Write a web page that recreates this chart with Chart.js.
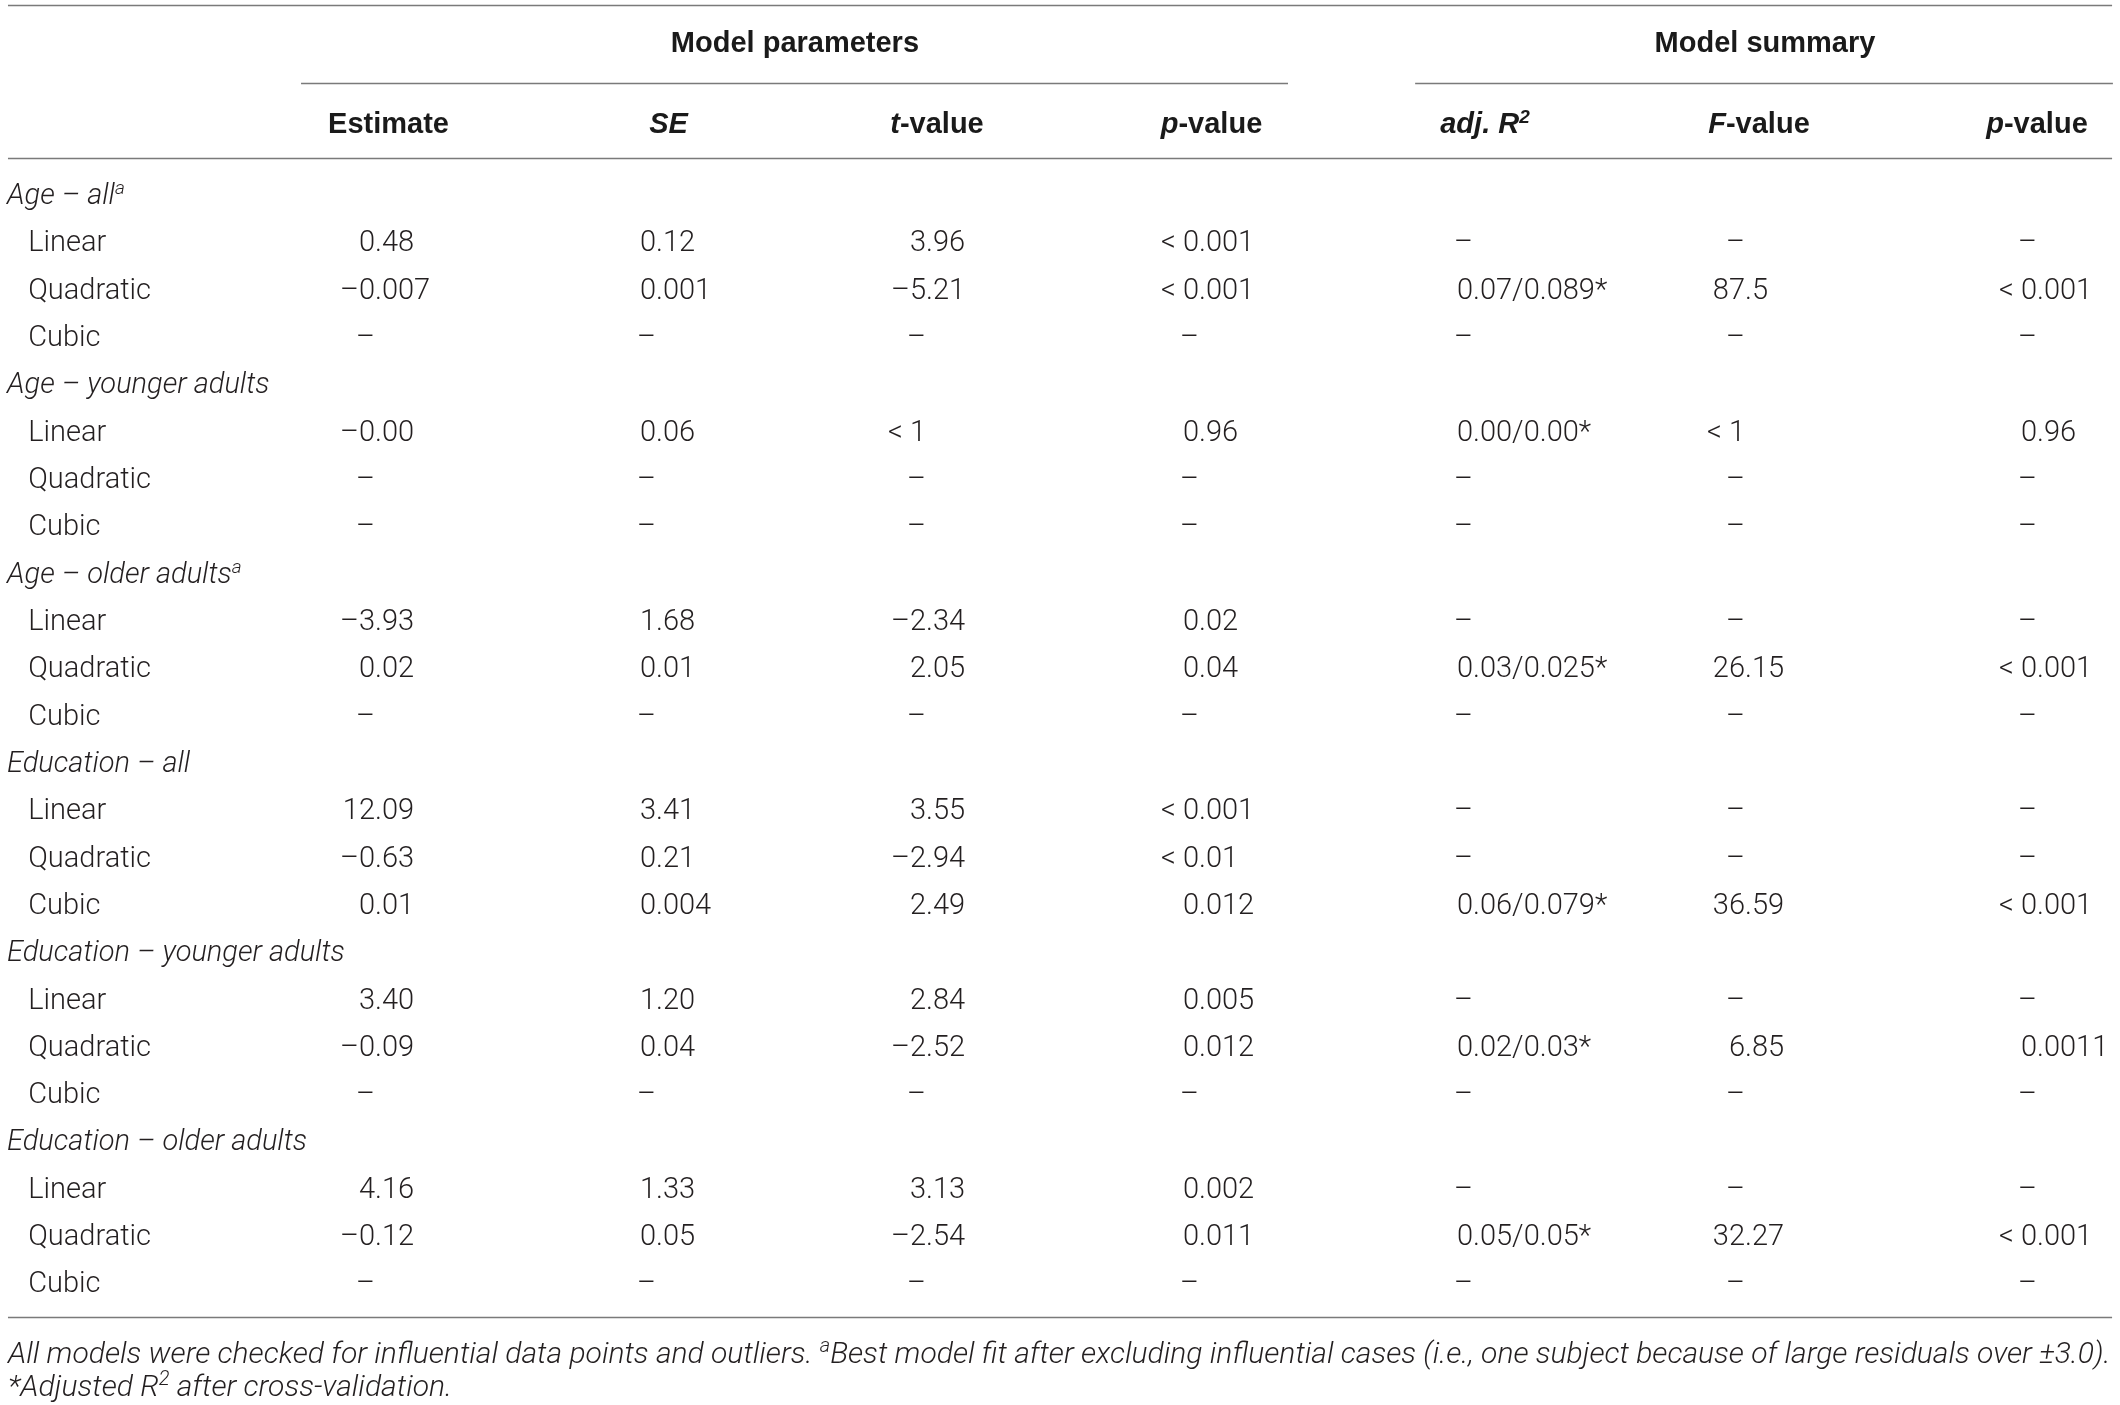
<!DOCTYPE html>
<html><head><meta charset="utf-8">
<script src="https://cdn.jsdelivr.net/npm/chart.js@4.4.1/dist/chart.umd.min.js"></script>
<style>html,body{margin:0;padding:0;background:#fff;overflow:hidden}#wrap{width:2120px;height:1405px}</style>
</head><body><div id="wrap"><canvas id="c" width="2120" height="1405"></canvas></div>
<script>
// ---------------- data ----------------
const groups = ["Age \u2013 all", "Age \u2013 younger adults", "Age \u2013 older adults",
  "Education \u2013 all", "Education \u2013 younger adults", "Education \u2013 older adults"];
const groupPrefix = ["Age \u2013 ", "Age \u2013 ", "Age \u2013 ", "Education \u2013 ", "Education \u2013 ", "Education \u2013 "];
const groupSubset = ["all", "younger adults", "older adults", "all", "younger adults", "older adults"];
const groupSup = ["a", "", "a", "", "", ""];
const terms = ["Linear", "Quadratic", "Cubic"];
const D = "\u2013";
// 18 rows: 6 groups x (Linear, Quadratic, Cubic)
const estimate = ["0.48", D+"0.007", D, D+"0.00", D, D, D+"3.93", "0.02", D, "12.09", D+"0.63", "0.01", "3.40", D+"0.09", D, "4.16", D+"0.12", D];
const se       = ["0.12", "0.001", D, "0.06", D, D, "1.68", "0.01", D, "3.41", "0.21", "0.004", "1.20", "0.04", D, "1.33", "0.05", D];
const tValue   = ["3.96", D+"5.21", D, "< 1", D, D, D+"2.34", "2.05", D, "3.55", D+"2.94", "2.49", "2.84", D+"2.52", D, "3.13", D+"2.54", D];
const pParam   = ["< 0.001", "< 0.001", D, "0.96", D, D, "0.02", "0.04", D, "< 0.001", "< 0.01", "0.012", "0.005", "0.012", D, "0.002", "0.011", D];
const adjR2    = [D, "0.07/0.089*", D, "0.00/0.00*", D, D, D, "0.03/0.025*", D, D, D, "0.06/0.079*", D, "0.02/0.03*", D, D, "0.05/0.05*", D];
const fValue   = [D, "87.5", D, "< 1", D, D, D, "26.15", D, D, D, "36.59", D, "6.85", D, D, "32.27", D];
const pModel   = [D, "< 0.001", D, "0.96", D, D, D, "< 0.001", D, D, D, "< 0.001", D, "0.0011", D, D, "< 0.001", D];
const columnSeries = [estimate, se, tValue, pParam, adjR2, fValue, pModel];
const groupTitles = ["Model parameters", "Model summary"];
const footnote1a = "All models were checked for influential data points and outliers. ";
const footnote1b = "Best model fit after excluding influential cases (i.e., one subject because of large residuals over \u00b13.0).";
const footnote2a = "*Adjusted R";
const footnote2b = " after cross-validation.";

// ---------------- rows ----------------
const rows = [];
groups.forEach((g, gi) => {
  rows.push({type: "group", gi});
  terms.forEach((t, ti) => rows.push({type: "term", label: t, idx: gi * 3 + ti}));
});

// ---------------- style / layout ----------------
const TXT = "#231f20";
const RULE = "#7a7a7a";
const F_BODY = "300 29px Roboto";
const F_ITAL = "italic 300 29px Roboto";
const F_SUP = "300 19px Roboto";
const F_SUPI = "italic 300 19px Roboto";
const F_HB = "bold 29px 'Liberation Sans'";
const F_HBI = "italic bold 29px 'Liberation Sans'";
const F_HSUP = "italic bold 19px 'Liberation Sans'";
const colNudge = [0, 4, -3, -7, -10, -15, 0];
const headNudge = [13.5, 12.5, 11, 12.5, 12, 14, 0];

function runsWidth(ctx, runs) {
  let w = 0;
  runs.forEach(r => { ctx.font = r.f; w += ctx.measureText(r.t).width; });
  return w;
}
function drawRuns(ctx, runs, x, y, align) {
  const w = runsWidth(ctx, runs);
  let cx = align === "center" ? x - w / 2 : align === "right" ? x - w : x;
  runs.forEach(r => {
    ctx.font = r.f;
    ctx.fillText(r.t, cx, y - (r.sup ? r.sup : 0));
    cx += ctx.measureText(r.t).width;
  });
}
function cellText(ctx, s, anchor, y) {
  ctx.font = F_BODY;
  const k = s.indexOf(".");
  const intPart = k < 0 ? s : s.slice(0, k);
  const rest = k < 0 ? "" : s.slice(k);
  const wi = ctx.measureText(intPart).width;
  ctx.fillText(intPart, anchor - wi, y);
  if (rest) ctx.fillText(rest, anchor, y);
}

const tablePlugin = {
  id: "tablePlugin",
  afterDraw(chart) {
    const ctx = chart.ctx;
    const xs = chart.scales.x, ys = chart.scales.y;
    const X = v => xs.getPixelForValue(v);
    const Y = v => ys.getPixelForValue(v);
    const base = v => Y(v) + 10.5; // baseline from row centre
    ctx.save();
    ctx.textBaseline = "alphabetic";
    ctx.fillStyle = TXT;
    // rules
    ctx.strokeStyle = RULE;
    ctx.lineWidth = 1.6;
    const hline = (x0, x1, yv) => { const yy = Math.round(Y(yv)) + 0.5; ctx.beginPath(); ctx.moveTo(X(x0), yy); ctx.lineTo(X(x1), yy); ctx.stroke(); };
    hline(-1.325, 6.271, -3.970);
    hline(-0.267, 3.296, -2.339);
    hline(3.755, 6.274, -2.339);
    hline(-1.325, 6.271, -0.742);
    hline(-1.325, 6.271, 23.74);
    // group titles
    ctx.fillStyle = "#1a1a1a";
    drawRuns(ctx, [{t: groupTitles[0], f: F_HB}], X(1.516), base(-3.209), "center");
    drawRuns(ctx, [{t: groupTitles[1], f: F_HB}], X(5.018), base(-3.209), "center");
    // column headers
    const heads = [
      [{t: "Estimate", f: F_HB}],
      [{t: "SE", f: F_HBI}],
      [{t: "t", f: F_HBI}, {t: "-value", f: F_HB}],
      [{t: "p", f: F_HBI}, {t: "-value", f: F_HB}],
      [{t: "adj. R", f: F_HBI}, {t: "2", f: F_HSUP, sup: 10}],
      [{t: "F", f: F_HBI}, {t: "-value", f: F_HB}],
      [{t: "p", f: F_HBI}, {t: "-value", f: F_HB}]
    ];
    heads.forEach((h, c) => drawRuns(ctx, h, X(c) + colNudge[c] + headNudge[c], base(-1.498), "center"));
    // body rows
    ctx.fillStyle = TXT;
    const xGroup = X(-1.3285), xTerm = X(-1.252);
    rows.forEach((row, r) => {
      const yb = base(r);
      if (row.type === "group") {
        const runs = [{t: groupPrefix[row.gi] + groupSubset[row.gi], f: F_ITAL}];
        if (groupSup[row.gi]) runs.push({t: groupSup[row.gi], f: F_SUPI, sup: 10});
        drawRuns(ctx, runs, xGroup, yb, "left");
      } else {
        ctx.font = F_BODY;
        ctx.fillText(row.label, xTerm, yb);
        columnSeries.forEach((series, c) => cellText(ctx, series[row.idx], X(c) + colNudge[c], yb));
      }
    });
    // footnotes (fit first line to table width)
    const left = X(-1.325), right = X(6.268);
    let size = 29;
    const mk = s => [
      {t: footnote1a, f: "italic 300 " + s + "px Roboto"},
      {t: "a", f: "italic 300 " + Math.round(s * 0.65) + "px Roboto", sup: s * 0.35},
      {t: footnote1b, f: "italic 300 " + s + "px Roboto"}
    ];
    const w0 = runsWidth(ctx, mk(size));
    size = size * (right - left) / w0;
    drawRuns(ctx, mk(size), left, base(24.48), "left");
    drawRuns(ctx, [
      {t: footnote2a, f: "italic 300 " + size + "px Roboto"},
      {t: "2", f: "italic 300 " + Math.round(size * 0.65) + "px Roboto", sup: size * 0.35},
      {t: footnote2b, f: "italic 300 " + size + "px Roboto"}
    ], left, base(25.18), "left");
    ctx.restore();
  }
};

// one invisible point per cell so the scales span the table grid
const cellPoints = [];
rows.forEach((row, r) => { if (row.type === "term") columnSeries.forEach((s, c) => cellPoints.push({x: c, y: r})); });

const chart = new Chart(document.getElementById("c"), {
  type: "scatter",
  data: {datasets: [{data: cellPoints, pointRadius: 0, pointHoverRadius: 0}]},
  options: {
    responsive: false, animation: false, devicePixelRatio: 1,
    layout: {padding: 0},
    plugins: {legend: {display: false}, tooltip: {enabled: false}},
    events: [],
    scales: {
      x: {type: "linear", display: false, min: -1.3538, max: 6.2996},
      y: {type: "linear", display: false, reverse: true, min: -4.0862, max: 25.599}
    }
  },
  plugins: [tablePlugin]
});
if (document.fonts && document.fonts.load) {
  Promise.all([F_BODY, F_ITAL, F_HB, F_HBI].map(f => document.fonts.load(f, "Aa0"))).then(() => chart.draw()).catch(() => {});
}
</script></body></html>
